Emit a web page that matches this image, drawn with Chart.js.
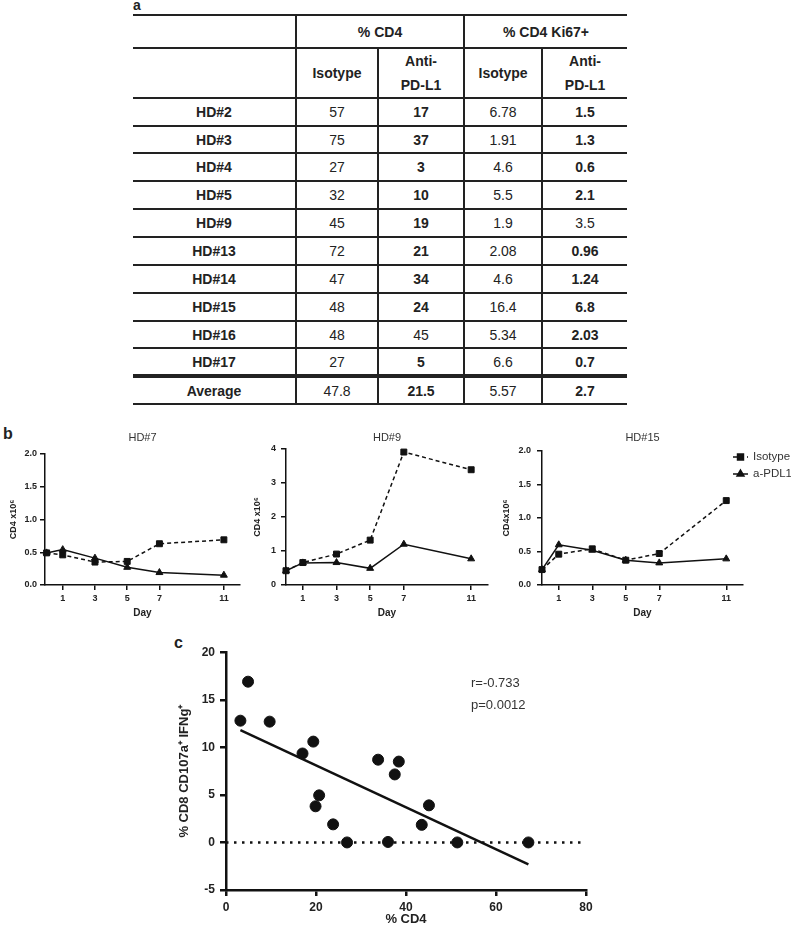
<!DOCTYPE html>
<html>
<head>
<meta charset="utf-8">
<title>CD4 and anti-PD-L1</title>
<script src="https://cdn.jsdelivr.net/npm/chart.js@4.4.1/dist/chart.umd.min.js"></script>
<style>
  html, body { margin: 0; padding: 0; background: #fff; }
  #page { position: relative; width: 791px; height: 937px; overflow: hidden;
          font-family: 'Liberation Sans', Arial, sans-serif; color: #222; }
  .panel { position: absolute; font-weight: bold; font-size: 16px; line-height: 16px; }
  canvas { position: absolute; }
  #tbl { position: absolute; left: 133px; top: 14px; width: 494px; border-collapse: collapse;
         table-layout: fixed; font-size: 14px; color: #222; }
  #tbl td { border: 2px solid #222; text-align: center; padding: 0; line-height: 24px; }
  #tbl tr td:first-child { border-left: none; }
  #tbl tr td:last-child { border-right: none; }
  #tbl tr.avg td { border-top: 4px solid #222; }
  #tbl .b { font-weight: bold; }
  .stat { position: absolute; left: 471px; font-size: 13px; line-height: 16px; color: #333; }
</style>
</head>
<body>
<div id="page">
  <div class="panel" style="left:133px; top:-3px; font-size:14px;">a</div>
  <table id="tbl">
    <colgroup>
      <col style="width:163px"><col style="width:82px"><col style="width:86px"><col style="width:78px"><col style="width:85px">
    </colgroup>
    <tbody></tbody>
  </table>

  <div class="panel" style="left:3px; top:426px;">b</div>
  <canvas id="hd7" width="250" height="200" style="left:0px; top:428px;"></canvas>
  <canvas id="hd9" width="250" height="200" style="left:250px; top:428px;"></canvas>
  <canvas id="hd15" width="291" height="200" style="left:500px; top:428px;"></canvas>

  <div class="panel" style="left:174px; top:635px;">c</div>
  <canvas id="corr" width="460" height="297" style="left:150px; top:640px;"></canvas>
  <div class="stat" style="top:675px;">r=-0.733</div>
  <div class="stat" style="top:697px;">p=0.0012</div>
</div>

<script>
// ---- panel a: table values ----
const donors = ['HD#2', 'HD#3', 'HD#4', 'HD#5', 'HD#9', 'HD#13', 'HD#14', 'HD#15', 'HD#16', 'HD#17'];
const cd4Isotype = [57, 75, 27, 32, 45, 72, 47, 48, 48, 27];
const cd4AntiPdl1 = [17, 37, 3, 10, 19, 21, 34, 24, 45, 5];
const ki67Isotype = [6.78, 1.91, 4.6, 5.5, 1.9, 2.08, 4.6, 16.4, 5.34, 6.6];
const ki67AntiPdl1 = [1.5, 1.3, 0.6, 2.1, 3.5, 0.96, 1.24, 6.8, 2.03, 0.7];
// which anti-PD-L1 values are marked (bold) in the original table
const cd4Marked = [true, true, true, true, true, true, true, true, false, true];
const ki67Marked = [true, true, true, true, false, true, true, true, true, true];
const averages = [47.8, 21.5, 5.57, 2.7];

// ---- panel b: CD4 counts over time ----
const days = [0, 1, 3, 5, 7, 11];
const dayTicks = [1, 3, 5, 7, 11];
const hd7Isotype = [0.49, 0.46, 0.35, 0.36, 0.63, 0.69];
const hd7Pdl1 = [0.49, 0.54, 0.41, 0.27, 0.19, 0.15];
const hd9Isotype = [0.42, 0.66, 0.91, 1.32, 3.91, 3.39];
const hd9Pdl1 = [0.42, 0.65, 0.66, 0.49, 1.2, 0.77];
const hd15Isotype = [0.23, 0.46, 0.54, 0.37, 0.47, 1.26];
const hd15Pdl1 = [0.23, 0.6, 0.52, 0.37, 0.33, 0.39];

// ---- panel c: correlation ----
const cd4Pct = [3.2, 4.9, 9.7, 17.0, 19.4, 19.9, 20.7, 23.8, 26.9, 33.8, 36.0, 37.5, 38.4, 43.5, 45.1, 51.4, 67.2];
const cd8Pct = [12.8, 16.9, 12.7, 9.35, 10.6, 3.8, 4.95, 1.9, 0, 8.7, 0.05, 7.15, 8.5, 1.85, 3.9, 0, 0];
const fitX = [3.2, 67.2];
const fitY = [11.8, -2.3];
const zeroX = [0, 80];
const zeroY = [0, 0];

const FONT = "'Liberation Sans', Arial, sans-serif";
Chart.defaults.font.family = FONT;
Chart.defaults.color = '#222';
const INK = '#111';

// build table
const tbody = document.querySelector('#tbl tbody');
function addRow(cells, height, cls) {
  const tr = document.createElement('tr');
  tr.style.height = height + 'px';
  if (cls) tr.className = cls;
  cells.forEach(c => {
    const td = document.createElement('td');
    td.innerHTML = c.text;
    if (c.bold) td.className = 'b';
    if (c.span) td.colSpan = c.span;
    tr.appendChild(td);
  });
  tbody.appendChild(tr);
}
addRow([{ text: '' }, { text: '% CD4', bold: true, span: 2 }, { text: '% CD4 Ki67+', bold: true, span: 2 }], 33);
addRow([{ text: '' }, { text: 'Isotype', bold: true }, { text: 'Anti-<br>PD-L1', bold: true },
        { text: 'Isotype', bold: true }, { text: 'Anti-<br>PD-L1', bold: true }], 50);
const rowHeights = [28, 27, 28, 28, 28, 28, 28, 28, 27, 28];
donors.forEach((d, i) => {
  addRow([
    { text: d, bold: true },
    { text: cd4Isotype[i] },
    { text: cd4AntiPdl1[i], bold: cd4Marked[i] },
    { text: ki67Isotype[i] },
    { text: ki67AntiPdl1[i], bold: ki67Marked[i] }
  ], rowHeights[i]);
});
addRow([{ text: 'Average', bold: true }, { text: averages[0] }, { text: averages[1], bold: true },
        { text: averages[2] }, { text: averages[3], bold: true }], 28, 'avg');

// legend drawn beside the HD#15 plot
const sideLegend = {
  id: 'sideLegend',
  afterDraw(chart, args, o) {
    const ctx = chart.ctx;
    chart.data.datasets.forEach((ds, i) => {
      const y = o.top + i * o.gap;
      ctx.save();
      ctx.strokeStyle = ds.borderColor;
      ctx.fillStyle = ds.backgroundColor;
      ctx.lineWidth = ds.borderWidth;
      ctx.setLineDash(ds.borderDash || []);
      ctx.beginPath();
      ctx.moveTo(o.x, y);
      ctx.lineTo(o.x + o.len, y);
      ctx.stroke();
      ctx.setLineDash([]);
      Chart.helpers.drawPoint(ctx, { pointStyle: ds.pointStyle, radius: ds.pointRadius, borderWidth: 1, rotation: 0 }, o.x + o.len / 2, y);
      ctx.fillStyle = '#333';
      ctx.font = '11.5px ' + FONT;
      ctx.textBaseline = 'middle';
      ctx.textAlign = 'left';
      ctx.fillText(ds.label, o.x + o.len + 5, y);
      ctx.restore();
    });
  }
};

function dayChart(id, title, iso, pdl, g) {
  return new Chart(document.getElementById(id), {
    type: 'scatter',
    data: {
      datasets: [
        { label: 'Isotype', data: days.map((d, i) => ({ x: d, y: iso[i] })), showLine: true,
          borderColor: INK, backgroundColor: INK, borderWidth: 1.5, borderDash: [4, 3],
          pointStyle: 'rect', pointRadius: 4.2, pointBorderWidth: 1, clip: false },
        { label: 'a-PDL1', data: days.map((d, i) => ({ x: d, y: pdl[i] })), showLine: true,
          borderColor: INK, backgroundColor: INK, borderWidth: 1.5,
          pointStyle: 'triangle', pointRadius: 4, pointBorderWidth: 1, clip: false }
      ]
    },
    options: {
      responsive: false,
      animation: false,
      layout: { padding: { left: 0, right: g.padRight, top: 0, bottom: 0 } },
      plugins: {
        legend: { display: false },
        tooltip: { enabled: false },
        title: { display: true, text: title, fullSize: false, color: '#333',
                 font: { size: 11, weight: 'normal' }, padding: { top: 3.4, bottom: g.titleGap } },
        sideLegend: { x: 233, top: 29, gap: 17, len: 15 }
      },
      scales: {
        x: {
          type: 'linear', min: g.xMin, max: 12,
          afterBuildTicks: a => { a.ticks = dayTicks.map(v => ({ value: v })); },
          afterFit: s => { s.height = 43; },
          border: { display: true, color: INK, width: 1.5 },
          grid: { drawOnChartArea: false, drawTicks: true, tickLength: 5, color: INK, lineWidth: 1.5 },
          ticks: { font: { size: 9, weight: 'bold' }, padding: 3, maxRotation: 0, autoSkip: false },
          title: { display: true, text: 'Day', font: { size: 10, weight: 'bold' }, padding: { top: 0, bottom: 9 } }
        },
        y: {
          min: 0, max: g.yMax,
          ticks: { stepSize: g.yStep, font: { size: 9, weight: 'bold' }, padding: g.tickPad,
                   callback: v => g.yStep < 1 ? v.toFixed(1) : v },
          afterFit: s => { s.width = g.yWidth; },
          border: { display: true, color: INK, width: 1.5 },
          grid: { drawOnChartArea: false, drawTicks: true, tickLength: 5, color: INK, lineWidth: 1.5 },
          title: { display: true, text: g.yTitle, font: { size: 9, weight: 'bold' }, padding: { top: g.yTitlePad, bottom: 0 } }
        }
      }
    },
    plugins: g.legend ? [sideLegend] : []
  });
}

dayChart('hd7', 'HD#7', hd7Isotype, hd7Pdl1,
  { xMin: -0.1, yMax: 2, yStep: 0.5, yWidth: 45, padRight: 10, titleGap: 9.4, tickPad: 3, yTitlePad: 8.6, yTitle: 'CD4 x10\u2076' });
dayChart('hd9', 'HD#9', hd9Isotype, hd9Pdl1,
  { xMin: 0, yMax: 4, yStep: 1, yWidth: 36, padRight: 12, titleGap: 4.4, tickPad: 5, yTitlePad: 2.6, yTitle: 'CD4 x10\u2076' });
dayChart('hd15', 'HD#15', hd15Isotype, hd15Pdl1,
  { xMin: 0, yMax: 2, yStep: 0.5, yWidth: 42, padRight: 48, titleGap: 6.4, tickPad: 6, yTitlePad: 1.6, yTitle: 'CD4x10\u2076', legend: true });

// panel c
new Chart(document.getElementById('corr'), {
  type: 'scatter',
  data: {
    datasets: [
      { data: cd4Pct.map((x, i) => ({ x: x, y: cd8Pct[i] })), pointRadius: 5.5,
        backgroundColor: INK, borderColor: INK, clip: false },
      { data: fitX.map((x, i) => ({ x: x, y: fitY[i] })), showLine: true, pointRadius: 0,
        borderColor: INK, borderWidth: 2.5 },
      { data: zeroX.map((x, i) => ({ x: x, y: zeroY[i] })), showLine: true, pointRadius: 0,
        borderColor: INK, borderWidth: 2.5, borderDash: [2.5, 5.5] }
    ]
  },
  options: {
    responsive: false,
    animation: false,
    layout: { padding: { left: 0, right: 24, top: 10, bottom: 0 } },
    plugins: { legend: { display: false }, tooltip: { enabled: false } },
    scales: {
      x: {
        min: 0, max: 80,
        ticks: { stepSize: 20, font: { size: 12, weight: 'bold' }, padding: 4 },
        afterFit: s => { s.height = 47; },
        border: { display: true, color: INK, width: 2.5 },
        grid: { drawOnChartArea: false, drawTicks: true, tickLength: 6, color: INK, lineWidth: 2.5 },
        title: { display: true, text: '% CD4', font: { size: 13, weight: 'bold' }, padding: { top: 0, bottom: 10 } }
      },
      y: {
        min: -5, max: 20,
        ticks: { stepSize: 5, font: { size: 12, weight: 'bold' }, padding: 5 },
        afterFit: s => { s.width = 76; },
        border: { display: true, color: INK, width: 2.5 },
        grid: { drawOnChartArea: false, drawTicks: true, tickLength: 6, color: INK, lineWidth: 2.5 },
        title: { display: true, text: '% CD8 CD107a\u207A IFNg\u207A', font: { size: 13, weight: 'bold' }, padding: { top: 27, bottom: 0 } }
      }
    }
  }
});
</script>
</body>
</html>
